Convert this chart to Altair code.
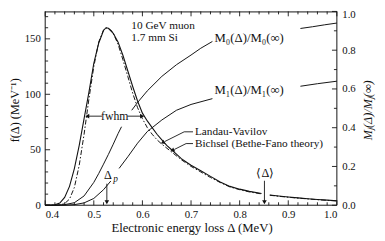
import altair as alt
import pandas as pd

# ---------------- data ----------------
# Bichsel (Bethe-Fano theory), solid
b_d = [0.40, 0.41, 0.42, 0.43, 0.44, 0.45, 0.46, 0.47, 0.48, 0.49, 0.50, 0.51, 0.52, 0.525, 0.53,
       0.54, 0.55, 0.56, 0.57, 0.58, 0.59, 0.60, 0.61, 0.62, 0.63, 0.64, 0.65, 0.66, 0.67, 0.68,
       0.69, 0.70, 0.72, 0.74, 0.76, 0.78, 0.80, 0.82, 0.845,
       0.862, 0.88, 0.90, 0.92, 0.94, 0.96, 0.98, 1.00]
b_f = [0, 0, 0.5, 2, 7, 17, 33, 54, 78, 102, 128, 146, 157.5, 160, 159.5,
       155, 147, 135, 121, 107, 94, 83, 76, 70, 64, 59, 54, 50, 46, 42,
       39, 36, 31, 26, 21, 17, 14.5, 12.5, 10.5,
       9.2, 8.3, 7.4, 6.6, 5.9, 5.2, 4.6, 4.0]
b_seg = [0] * 39 + [1] * 8

# Landau-Vavilov, dot-dashed
l_d = [0.40, 0.42, 0.43, 0.44, 0.45, 0.46, 0.47, 0.48, 0.49, 0.50, 0.51, 0.52, 0.527, 0.535,
       0.54, 0.55, 0.56, 0.57, 0.58, 0.59, 0.60, 0.61, 0.62, 0.63, 0.64, 0.66, 0.68, 0.70,
       0.72, 0.74, 0.76, 0.78, 0.80, 0.82, 0.845,
       0.862, 0.88, 0.90, 0.92, 0.94, 0.96, 0.98, 1.00]
l_f = [0, 0, 0.3, 1.5, 5.5, 16, 36, 64, 96, 125, 147, 158, 160, 158,
       155, 145, 131, 116, 101, 88, 78, 70, 64, 59, 55, 48, 41, 35,
       30, 25, 20.5, 16.5, 14, 12, 10.2,
       9.0, 8.1, 7.2, 6.4, 5.7, 5.0, 4.4, 3.8]
l_seg = [0] * 35 + [1] * 8

# M0(Δ)/M0(∞)
m0_d = [0.40, 0.42, 0.44, 0.46, 0.48, 0.50, 0.51, 0.52, 0.53, 0.54, 0.55, 0.557,
        0.578, 0.59, 0.61, 0.64, 0.67, 0.70, 0.72, 0.744,
        0.925, 0.95, 0.975, 1.00]
m0_v = [0, 0, 0.003, 0.013, 0.048, 0.118, 0.163, 0.212, 0.262, 0.315, 0.37, 0.405,
        0.49, 0.53, 0.59, 0.665, 0.725, 0.775, 0.81, 0.845,
        0.912, 0.921, 0.931, 0.94]
m0_seg = [0] * 12 + [1] * 8 + [2] * 4

# M1(Δ)/M1(∞)
m1_d = [0.40, 0.44, 0.46, 0.48, 0.50, 0.52, 0.535,
        0.552, 0.57, 0.59, 0.61, 0.64, 0.67, 0.70, 0.744,
        0.925, 0.96, 1.00]
m1_v = [0, 0, 0.003, 0.012, 0.035, 0.08, 0.125,
        0.19, 0.25, 0.32, 0.38, 0.44, 0.49, 0.52, 0.55,
        0.614, 0.627, 0.64]
m1_seg = [0] * 7 + [1] * 8 + [2] * 3

x_major = [0.4, 0.5, 0.6, 0.7, 0.8, 0.9, 1.0]
x_minor = [0.42, 0.44, 0.46, 0.48, 0.52, 0.54, 0.56, 0.58, 0.62, 0.64, 0.66, 0.68,
           0.72, 0.74, 0.76, 0.78, 0.82, 0.84, 0.86, 0.88, 0.92, 0.94, 0.96, 0.98]
f_major = [0, 50, 100, 150]
f_minor = [10, 20, 30, 40, 60, 70, 80, 90, 110, 120, 130, 140, 160, 170]
m_major = [0.0, 0.2, 0.4, 0.6, 0.8, 1.0]
m_minor = [0.1, 0.3, 0.5, 0.7, 0.9]

# ---------------- layout ----------------
W, H = 298, 198
FONT = "Liberation Serif"
INK = "#111111"
F_MAX = 174.7

xs = alt.Scale(domain=[0.4, 1.0], nice=False, zero=False)
yf = alt.Scale(domain=[0, F_MAX], nice=False, zero=False)
ym = alt.Scale(domain=[0, 1], nice=False, zero=False)

TOP = 9


def P(X, Y):
    """page pixel -> plot pixel"""
    return X - 46, Y - TOP


one = pd.DataFrame({"a": [0]})

x_axis = alt.Axis(values=x_major, format=".1f", ticks=False, domain=False, grid=False,
                  labelFont=FONT, labelFontSize=11, labelColor=INK, labelPadding=4, title=None)
yl_axis = alt.Axis(values=f_major, format="d", ticks=False, domain=False, grid=False,
                   labelFont=FONT, labelFontSize=11, labelColor=INK, labelPadding=5, title=None)
yr_axis = alt.Axis(orient="right", values=m_major, format=".1f", ticks=False, domain=False,
                   grid=False, labelFont=FONT, labelFontSize=11, labelColor=INK, labelPadding=5,
                   labelOffset={"condition": {"test": "datum.value >= 1", "value": 3},
                                "value": 0},
                   title=None)

X = lambda f: alt.X(f, scale=xs, axis=x_axis)
YL = lambda f: alt.Y(f, scale=yf, axis=yl_axis)
YR = lambda f: alt.Y(f, scale=ym, axis=yr_axis)

bich = alt.Chart(pd.DataFrame({"d": b_d, "f": b_f, "seg": b_seg})).mark_line(
    color=INK, strokeWidth=1.1).encode(x=X("d:Q"), y=YL("f:Q"), detail="seg:N")
lv = alt.Chart(pd.DataFrame({"d": l_d, "f": l_f, "seg": l_seg})).mark_line(
    color=INK, strokeWidth=1.0, strokeDash=[5, 2, 1.5, 2]).encode(
    x=X("d:Q"), y=YL("f:Q"), detail="seg:N")

lt_major = alt.Chart(pd.DataFrame({"v": f_major})).mark_rule(color=INK, strokeWidth=0.9).encode(
    y=YL("v:Q"), x=alt.value(0), x2=alt.value(5))
lt_minor = alt.Chart(pd.DataFrame({"v": f_minor})).mark_rule(color=INK, strokeWidth=0.9).encode(
    y=YL("v:Q"), x=alt.value(0), x2=alt.value(3))

left = alt.layer(bich, lv, lt_major, lt_minor)

m0 = alt.Chart(pd.DataFrame({"d": m0_d, "m": m0_v, "seg": m0_seg})).mark_line(
    color=INK, strokeWidth=1.0).encode(x=X("d:Q"), y=YR("m:Q"), detail="seg:N")
m1 = alt.Chart(pd.DataFrame({"d": m1_d, "m": m1_v, "seg": m1_seg})).mark_line(
    color=INK, strokeWidth=1.0).encode(x=X("d:Q"), y=YR("m:Q"), detail="seg:N")
rt_major = alt.Chart(pd.DataFrame({"v": m_major})).mark_rule(color=INK, strokeWidth=0.9).encode(
    y=YR("v:Q"), x=alt.value(W), x2=alt.value(W - 5))
rt_minor = alt.Chart(pd.DataFrame({"v": m_minor})).mark_rule(color=INK, strokeWidth=0.9).encode(
    y=YR("v:Q"), x=alt.value(W), x2=alt.value(W - 3))

right = alt.layer(m0, m1, rt_major, rt_minor)


def xticks(vals, L):
    df = pd.DataFrame({"v": vals})
    b = alt.Chart(df).mark_rule(color=INK, strokeWidth=0.9).encode(
        x=X("v:Q"), y=alt.value(H), y2=alt.value(H - L))
    t = alt.Chart(df).mark_rule(color=INK, strokeWidth=0.9).encode(
        x=X("v:Q"), y=alt.value(0), y2=alt.value(L))
    return [b, t]


def rule_px(a, b, c, d, w=0.9):
    return alt.Chart(one).mark_rule(color=INK, strokeWidth=w).encode(
        x=alt.value(a), y=alt.value(b), x2=alt.value(c), y2=alt.value(d))


def seg(X1, Y1, X2, Y2):
    a, b = P(X1, Y1)
    c, d = P(X2, Y2)
    return rule_px(a, b, c, d)


def head(Xp, Yp, angle, size=22):
    a, b = P(Xp, Yp)
    return alt.Chart(one).mark_point(shape="triangle-up", filled=True, color=INK, size=size,
                                     angle=angle, opacity=1).encode(
        x=alt.value(a), y=alt.value(b))


def txt(Xp, Yp, s, size=12, align="left", style="normal", angle=0):
    a, b = P(Xp, Yp)
    return alt.Chart(one).mark_text(text=s, font=FONT, fontSize=size, align=align,
                                    baseline="middle", color=INK, fontStyle=style,
                                    angle=angle).encode(
        x=alt.value(a), y=alt.value(b))


frame = [
    rule_px(0, 0.5, W, 0.5, 1), rule_px(0, H, W, H, 1),
    rule_px(0, 0, 0, H, 1), rule_px(W, 0, W, H, 1),
]

titles = [
    txt(196, 230, "Electronic energy loss Δ  (MeV)", 13, "center"),
    txt(15, 110, "f(Δ)  (MeV⁻¹)", 12.5, "center", angle=270),
    txt(376, 110, "Mⱼ(Δ)/Mⱼ(∞)", 12.5, "center", "italic", angle=270),
]

ann = [
    txt(134, 24, "10 GeV muon", 11.5),
    txt(134, 36, "1.7 mm Si", 11.5),
    txt(117, 116, "fwhm", 12, "center"),
    seg(104, 116, 90, 116), head(89, 116, 270),
    seg(130, 116, 144, 116), head(145, 116, 90),
    txt(110, 176, "Δ", 12.5, "center"),
    txt(118, 180, "p", 9.5, "center", "italic"),
    seg(109, 185, 109, 203), head(109, 204, 180),
    txt(271, 174, "⟨Δ⟩", 12.5, "center"),
    seg(270, 182, 270, 203), head(270, 204, 180),
    txt(199, 132, "Landau-Vavilov", 11.5),
    seg(197, 132, 188, 132), seg(188, 132, 168, 142), head(166, 143, 243),
    txt(199, 144, "Bichsel (Bethe-Fano theory)", 11.5),
    seg(197, 144, 190, 144), seg(190, 144, 178, 150), head(176, 151, 243),
    txt(219, 36, "M₀(Δ)/M₀(∞)", 13),
    txt(219, 89, "M₁(Δ)/M₁(∞)", 13),
]

chart = alt.layer(
    left, right, *xticks(x_major, 5), *xticks(x_minor, 3), *frame, *titles, *ann
).resolve_scale(y="independent").properties(
    width=W, height=H,
    autosize=alt.AutoSizeParams(type="none"),
    padding={"left": 38, "top": 1, "right": 41, "bottom": 32},
).configure_view(strokeWidth=0)

chart.save("out.html", embed_options={"renderer": "svg", "actions": False})
